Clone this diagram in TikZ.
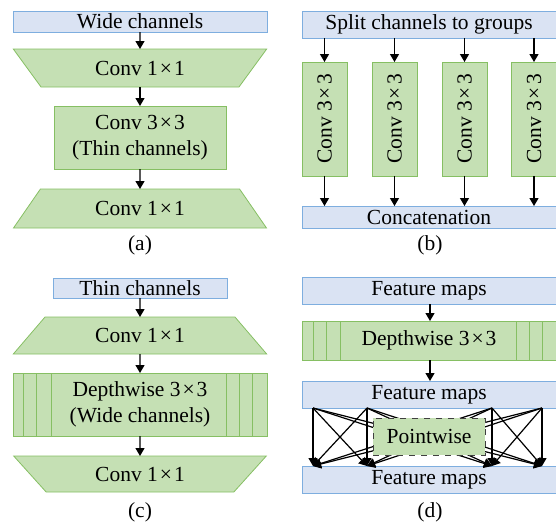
\documentclass[tikz,border=0pt]{standalone}
\usepackage{fontspec}
\setmainfont{Liberation Serif}
\usetikzlibrary{arrows.meta,shapes.geometric}
\definecolor{bfill}{HTML}{DAE3F3}
\definecolor{bline}{HTML}{7EAEDF}
\definecolor{gfill}{HTML}{C5E0B4}
\definecolor{gline}{HTML}{86BF63}
\newcommand{\figfont}{\fontsize{10.75}{13}\selectfont}
\newcommand{\tms}{\kern1pt×\kern1pt}

\begin{document}
\begin{tikzpicture}[x=0.5pt, y=-0.5pt, font=\figfont]
% Node styles ---
\tikzstyle{blu} = [rectangle, draw = bline, fill = bfill, inner sep = 0pt, outer sep = 0pt, minimum width = 127pt, minimum height = 13.5pt] % Feature maps
\tikzstyle{grn} = [rectangle, draw = gline, fill = gfill, inner sep = 0pt, outer sep = 0pt, align = center] % Convolutions
\tikzstyle{trap} = [trapezium, trapezium stretches, draw = gline, fill = gfill, inner sep = 0pt, outer sep = 0pt, minimum width = 127pt] % Conv 1x1
\tikzstyle{pw} = [rectangle, dashed, draw = black!75, fill = gfill, inner sep = 0pt, minimum width = 56pt, minimum height = 18.5pt] % Pointwise
% Edge styles
\tikzstyle{con} = [-{Triangle[length=4pt, width=4.5pt]}, line width = 0.6pt] % Arrows
\tikzstyle{sep} = [draw = gline] % Channel lines
% Begin Figure ---
\useasboundingbox (0,0) rectangle (556,521);
% (a) ---
\node at (140,21.5) [blu, minimum height = 10.5pt] (wide) {Wide channels};
\node at (140,68) [trap, trapezium angle = 49, shape border rotate = 180, minimum height = 19pt] (a1) {Conv 1\tms1};
\node at (140,137.5) [grn, minimum width = 86pt, minimum height = 31.5pt] (a2) {Conv 3\tms3\\(Thin channels)};
\node at (140,208.5) [trap, trapezium angle = 50, minimum height = 19.5pt] (a3) {Conv 1\tms1};
\node at (140,245) (la) {(a)};
\draw [con] (wide) -- (a1);
\draw [con] (a1) -- (a2);
\draw [con] (a2) -- (a3);
% (b) ---
\node at (429,24.5) [blu] (split) {Split channels to groups};
\node at (429,217) [blu, minimum height = 11pt] (cat) {Concatenation};
\foreach \i/\x in {1/324.5, 2/394.5, 3/464.5, 4/534} {
  \node at (\x,119) [grn, rotate = 90, minimum width = 57pt, minimum height = 22.5pt] (g\i) {Conv 3\tms3};
  \draw [con] (g\i |- split.south) -- (g\i);
  \draw [con] (g\i) -- (g\i |- cat.north);
}
\node at (430,245) (lb) {(b)};
% (c) ---
\node at (140,288) [blu, minimum width = 87pt, minimum height = 10pt] (thin) {Thin channels};
\node at (140,335.5) [trap, trapezium angle = 44, minimum height = 18.5pt] (c1) {Conv 1\tms1};
\node at (140,404.5) [grn, minimum width = 127pt, minimum height = 31.5pt] (c2) {Depthwise 3\tms3\\(Wide channels)};
\node at (140,474) [trap, trapezium angle = 43, shape border rotate = 180, minimum height = 18pt] (c3) {Conv 1\tms1};
\node at (140,512) (lc) {(c)};
\foreach \d in {10,23,38} {
  \draw [sep] ([xshift = \d*0.5pt]c2.south west) -- ([xshift = \d*0.5pt]c2.north west);
}
\foreach \d in {15,28,41} {
  \draw [sep] ([xshift = -\d*0.5pt]c2.south east) -- ([xshift = -\d*0.5pt]c2.north east);
}
\draw [con] (thin) -- (c1);
\draw [con] (c1) -- (c2);
\draw [con] (c2) -- (c3);
% (d) ---
\node at (429,290.5) [blu] (fm1) {Feature maps};
\node at (429,340.5) [grn, minimum width = 127pt, minimum height = 19.5pt] (dw) {Depthwise 3\tms3};
\node at (429,394.5) [blu] (fm2) {Feature maps};
\node at (429,479.5) [blu] (fm3) {Feature maps};
\node at (430,512) (ld) {(d)};
\foreach \d in {11,24,38} {
  \draw [sep] ([xshift = \d*0.5pt]dw.south west) -- ([xshift = \d*0.5pt]dw.north west);
}
\foreach \d in {14,27,40} {
  \draw [sep] ([xshift = -\d*0.5pt]dw.south east) -- ([xshift = -\d*0.5pt]dw.north east);
}
\draw [con] (fm1.south -| 430,0) -- (dw.north -| 430,0);
\draw [con] (dw.south -| 430,0) -- (fm2.north -| 430,0);
% Pointwise connections
\foreach \i/\x in {1/313, 2/367, 3/492, 4/542} {
  \coordinate (t\i) at (\x,408);
  \coordinate (b\i) at (\x,466);
}
\foreach \i in {1,...,4} {
  \foreach \j in {1,...,4} {
    \draw [con] (t\i) -- (b\j);
  }
}
\node at (429,436.5) [pw] (pw) {Pointwise};
\end{tikzpicture}
\end{document}
